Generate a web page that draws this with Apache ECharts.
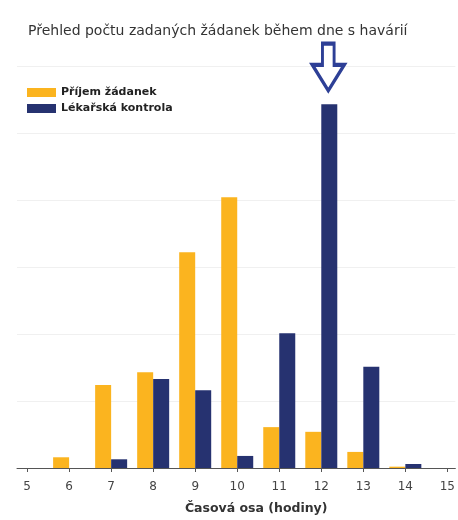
<!DOCTYPE html>
<html>
<head>
<meta charset="utf-8">
<script src="https://cdn.jsdelivr.net/npm/echarts@6/dist/echarts.min.js"></script>
<style>
html,body{margin:0;padding:0;background:#fff;}
#chart{width:458px;height:520px;}
</style>
</head>
<body>
<div id="chart"></div>
<script>
var hours = [6, 7, 8, 9, 10, 11, 12, 13, 14];
var prijem = [1.6, 12.4, 14.3, 32.2, 40.4, 6.1, 5.4, 2.4, 0.2];
var kontrola = [0, 1.3, 13.3, 11.6, 1.8, 20.1, 54.3, 15.1, 0.6];
var tickHours = [5, 6, 7, 8, 9, 10, 11, 12, 13, 14, 15];
var highlightHour = 12;

var chart = echarts.init(document.getElementById('chart'));
var navy = '#263270';
var yellow = '#fbb41f';

chart.setOption({
  animation: false,
  backgroundColor: '#ffffff',
  title: {
    text: 'Přehled počtu zadaných žádanek během dne s havárií',
    left: 23,
    top: 19,
    textStyle: { fontFamily: 'DejaVu Sans', fontSize: 14, fontWeight: 'normal', color: '#333' }
  },
  legend: {
    orient: 'vertical',
    left: 22,
    top: 82,
    itemWidth: 29,
    itemHeight: 9,
    itemGap: 5,
    icon: 'rect',
    textStyle: { fontFamily: 'DejaVu Sans', fontSize: 11, fontWeight: 'bold', color: '#222' },
    data: ['Příjem žádanek', 'Lékařská kontrola']
  },
  grid: { left: 17, right: 0, top: 66, bottom: 52 },
  xAxis: {
    type: 'value',
    min: 4.76,
    max: 15.19,
    name: 'Časová osa (hodiny)',
    nameLocation: 'middle',
    nameGap: 34,
    nameTextStyle: { fontFamily: 'DejaVu Sans', fontSize: 12.5, fontWeight: 'bold', color: '#333', padding: [0, 0, 0, 40] },
    axisLine: { show: true, lineStyle: { color: '#555', width: 1 } },
    axisTick: { show: true, customValues: tickHours, length: 4, lineStyle: { color: '#555' } },
    axisLabel: { customValues: tickHours, color: '#444', fontFamily: 'DejaVu Sans', fontSize: 12, margin: 13 },
    splitLine: { show: false }
  },
  yAxis: {
    type: 'value',
    min: 0,
    max: 60,
    interval: 10,
    axisLine: { show: false },
    axisTick: { show: false },
    axisLabel: { show: false },
    splitLine: { show: true, lineStyle: { color: '#f0f0f0', width: 1 } }
  },
  series: [
    {
      name: 'Příjem žádanek',
      type: 'bar',
      barWidth: 16,
      barGap: '0%',
      itemStyle: { color: yellow },
      data: hours.map(function (h, i) { return [h, prijem[i]]; })
    },
    {
      name: 'Lékařská kontrola',
      type: 'bar',
      barWidth: 16,
      barGap: '0%',
      itemStyle: { color: navy },
      data: hours.map(function (h, i) { return [h, kontrola[i]]; }),
      markPoint: {
        symbol: 'path://M10.5,0 L22.5,0 L22.5,22 L33,22 L16.5,49 L0,22 L10.5,22 Z',
        symbolSize: [32, 47],
        symbolOffset: [-1, -37],
        symbolKeepAspect: false,
        itemStyle: { color: '#ffffff', borderColor: '#2d3f96', borderWidth: 3.5 },
        label: { show: false },
        data: [{ coord: [highlightHour, kontrola[hours.indexOf(highlightHour)]] }]
      }
    }
  ]
});
</script>
</body>
</html>
